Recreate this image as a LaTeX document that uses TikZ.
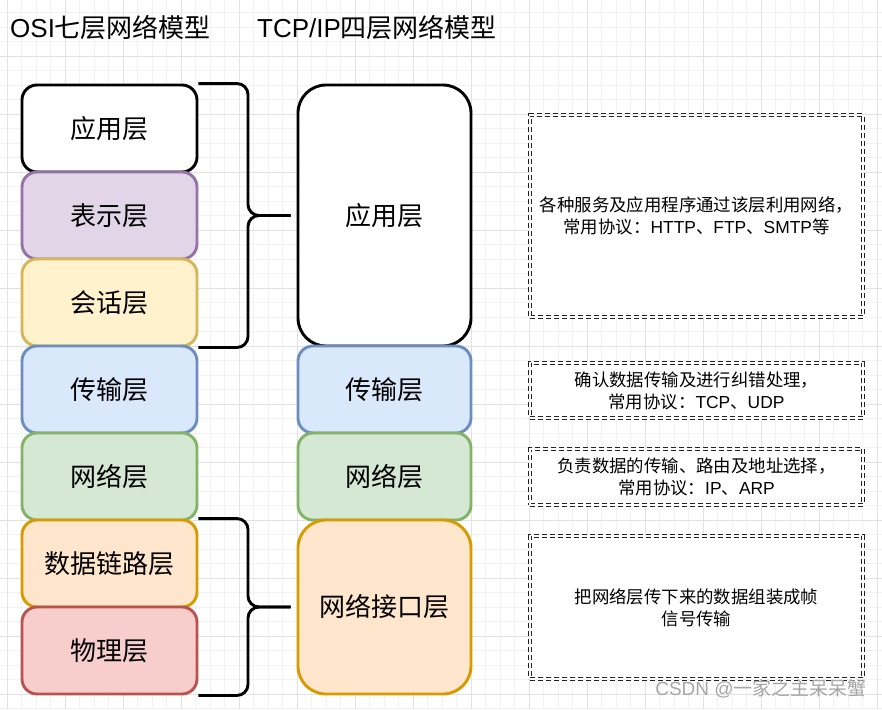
\documentclass[tikz,border=0pt]{standalone}
\usepackage{fontspec}
\setmainfont{Liberation Sans}
\newfontfamily\cjk{Noto Sans CJK SC}
\definecolor{gridminor}{HTML}{F2F2F2}
\definecolor{gridmajor}{HTML}{E2E2E2}
\definecolor{purF}{HTML}{E1D5E7}\definecolor{purS}{HTML}{9673A6}
\definecolor{yelF}{HTML}{FFF2CC}\definecolor{yelS}{HTML}{D6B656}
\definecolor{bluF}{HTML}{DAE8FC}\definecolor{bluS}{HTML}{6C8EBF}
\definecolor{grnF}{HTML}{D5E8D4}\definecolor{grnS}{HTML}{82B366}
\definecolor{orgF}{HTML}{FFE6CC}\definecolor{orgS}{HTML}{D79B00}
\definecolor{redF}{HTML}{F8CECC}\definecolor{redS}{HTML}{B85450}
\definecolor{wmark}{HTML}{A6A6A6}
\definecolor{dashc}{HTML}{222222}
\tikzset{
  layer/.style={draw, line width=2.9pt, rounded corners=15pt, inner sep=0pt,
    font=\cjk\fontsize{26}{31}\selectfont, align=center},
  osibox/.style={layer, minimum width=175pt, minimum height=87pt},
  tcpbox/.style={layer, minimum width=173pt, rounded corners=28pt},
  descbox/.style={draw=dashc, fill=white, dashed, dash pattern=on 5pt off 3pt, double, double distance=1.2pt,
    line width=1.2pt, inner sep=0pt, align=center, font=\fontsize{17.4}{22}\selectfont},
  brace/.style={draw, line width=2.9pt, rounded corners=11pt},
  title/.style={anchor=west, font=\fontsize{26}{31}\selectfont, inner sep=0pt}
}
\begin{document}
\begin{tikzpicture}[x=1pt, y=-1pt]
\useasboundingbox (0,0) rectangle (882,709);
\fill[white] (0,0) rectangle (882,709);
% grid
\foreach \i in {0,...,60} \draw[gridminor, line width=0.8pt] ({7+14.5*\i},0) -- ({7+14.5*\i},709);
\foreach \j in {0,...,48} \draw[gridminor, line width=0.8pt] (0,{12.5+14.5*\j}) -- (882,{12.5+14.5*\j});
\foreach \i in {0,...,15} \draw[gridmajor, line width=0.9pt] ({7+58*\i},0) -- ({7+58*\i},709);
\foreach \j in {1,...,12} \draw[gridmajor, line width=0.9pt] (0,{-2+58*\j}) -- (882,{-2+58*\j});

% titles
\node[title] (tosi) at (10,28) {OSI{\cjk 七层网络模型}};
\node[title] (ttcp) at (257,28) {TCP/IP{\cjk 四层网络模型}};

% OSI layers
\node[osibox, fill=white, draw=black] (o1) at (109.5,128.5) {应用层};
\node[osibox, fill=purF, draw=purS] (o2) at (109.5,215.5) {表示层};
\node[osibox, fill=yelF, draw=yelS] (o3) at (109.5,302.5) {会话层};
\node[osibox, fill=bluF, draw=bluS] (o4) at (109.5,389.5) {传输层};
\node[osibox, fill=grnF, draw=grnS] (o5) at (109.5,476.5) {网络层};
\node[osibox, fill=orgF, draw=orgS] (o6) at (109.5,563.5) {数据链路层};
\node[osibox, fill=redF, draw=redS] (o7) at (109.5,650.5) {物理层};

% TCP/IP layers
\node[tcpbox, minimum height=261pt, fill=white, draw=black] (t1) at (384.5,215.5) {应用层};
\node[tcpbox, minimum height=87pt, rounded corners=15pt, fill=bluF, draw=bluS] (t2) at (384.5,389.5) {传输层};
\node[tcpbox, minimum height=87pt, rounded corners=15pt, fill=grnF, draw=grnS] (t3) at (384.5,476.5) {网络层};
\node[tcpbox, minimum height=174pt, fill=orgF, draw=orgS] (t4) at (384.5,607) {网络接口层};

% braces
\coordinate (k1) at (248,215.5);
\coordinate (k2) at (248,607);
\draw[brace, shorten >=6pt] (o1.north east) -| (k1) -- (t1.west);
\draw[brace, shorten >=6pt] (o3.south east) -| (k1) -- (t1.west);
\draw[brace, shorten >=6pt] (o6.north east) -| (k2) -- (t4.west);
\draw[brace, shorten >=6pt] (o7.south east) -| (k2) -- (t4.west);

% descriptions
\node[descbox, minimum width=333pt, minimum height=202pt] (d1) at (696.5,216)
  {{\cjk 各种服务及应用程序通过该层利用网络，}\\{\cjk 常用协议：}HTTP{\cjk 、}FTP{\cjk 、}SMTP{\cjk 等}};
\node[descbox, minimum width=333pt, minimum height=55pt] (d2) at (696.5,390.5)
  {{\cjk 确认数据传输及进行纠错处理，}\\{\cjk 常用协议：}TCP{\cjk 、}UDP};
\node[descbox, minimum width=333pt, minimum height=56pt] (d3) at (696.5,477)
  {{\cjk 负责数据的传输、路由及地址选择，}\\{\cjk 常用协议：}IP{\cjk 、}ARP};
\node[descbox, minimum width=333pt, minimum height=143pt] (d4) at (696.5,607.5)
  {{\cjk 把网络层传下来的数据组装成帧}\\{\cjk 信号传输}};

% watermark
\node[text=wmark, font=\fontsize{19}{22}\selectfont, inner sep=0pt] (wm) at (761,689) {CSDN @{\cjk 一家之主呆呆蟹}};
\end{tikzpicture}
\end{document}
